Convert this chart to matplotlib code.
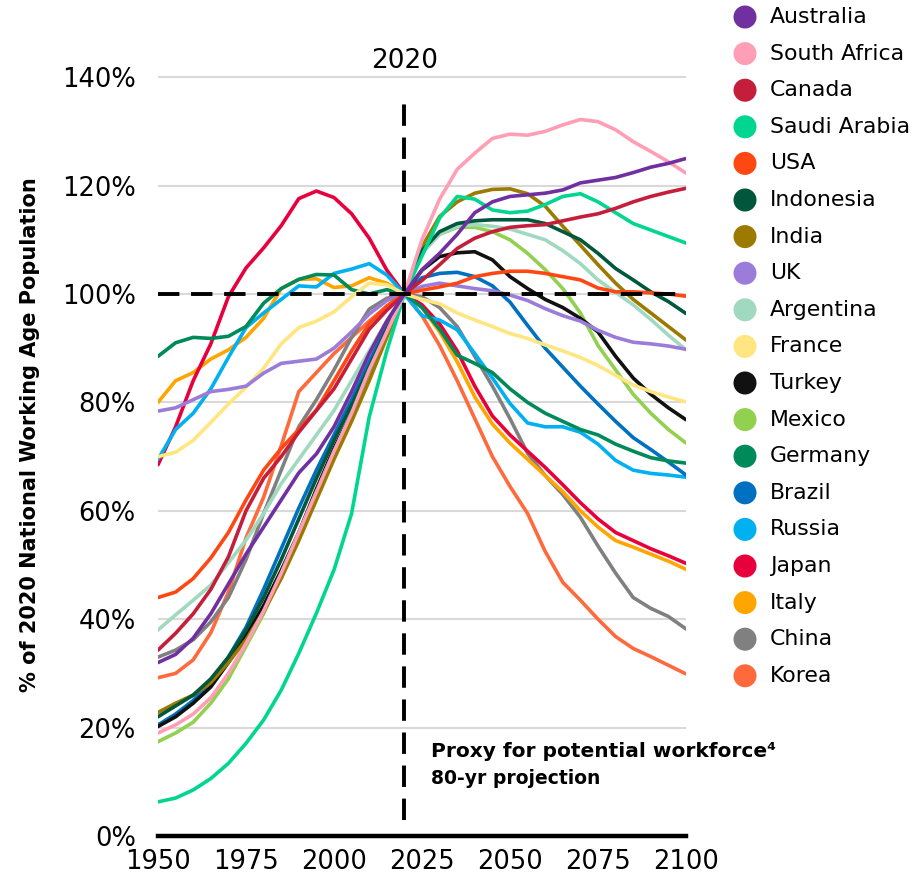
import matplotlib
matplotlib.use("Agg")
import matplotlib.pyplot as plt
import numpy as np

plt.rcParams['font.family'] = ['DejaVu Sans']

# Working-age population, % of the 2020 level, five-year steps 1950-2100
years = list(range(1950, 2101, 5))

countries = ["Australia", "South Africa", "Canada", "Saudi Arabia", "USA",
             "Indonesia", "India", "UK", "Argentina", "France", "Turkey",
             "Mexico", "Germany", "Brazil", "Russia", "Japan", "Italy",
             "China", "Korea"]

colors = ["#7030A0", "#FF9EB5", "#C41E3A", "#00D68F", "#FF4713",
          "#00573C", "#9C7A00", "#9B7DD9", "#A0D9C0", "#FFE680", "#111111",
          "#92D050", "#008A5A", "#0070C0", "#00B0F0", "#E8003D", "#FFA500",
          "#808080", "#FF6A3D"]

australia = [32, 33.5, 36.5, 41, 46.5, 52, 57, 62, 67, 70.5, 75.5, 82, 89, 95, 100,
             104.5, 107.5, 111, 115, 117, 118, 118.3, 118.6, 119.2, 120.5, 121, 121.5,
             122.4, 123.4, 124.1, 125]
south_africa = [19, 20.5, 22.5, 25.5, 30, 35.5, 41.5, 48.5, 56, 63.5, 71, 78, 86, 93, 100,
                110, 117.5, 123, 126, 128.7, 129.5, 129.3, 130, 131.2, 132.2, 131.8, 130.3,
                128.1, 126.3, 124.4, 122.3]
canada = [34.3, 37.4, 41, 45.5, 51.5, 60, 66, 70, 74.5, 78.5, 82.5, 88, 93.5, 97, 100,
          102.5, 105.4, 108.4, 110.3, 111.5, 112.3, 112.6, 112.8, 113.5, 114.2, 114.8,
          115.8, 117, 118, 118.8, 119.5]
saudi_arabia = [6.3, 7, 8.5, 10.6, 13.4, 17.1, 21.4, 26.9, 33.7, 41.1, 49.1, 59.5, 77.3, 89.5, 100,
                107, 114, 118, 117.5, 115.5, 115, 115.3, 116.5, 118, 118.5, 117, 115, 113,
                111.8, 110.6, 109.4]
usa = [44, 45, 47.5, 51.3, 56, 62, 67.5, 71.5, 75, 78.6, 84, 89.5, 94.5, 97.8, 100,
       100.7, 101.3, 102, 103.2, 103.8, 104.2, 104.2, 103.8, 103.2, 102.6, 101.1, 100.4,
       100.4, 100.2, 100, 99.6]
indonesia = [22, 24, 26, 29, 33, 38, 44, 51, 58.5, 66, 73, 79.5, 86.5, 93.5, 100,
             108, 111.5, 113, 113.5, 113.7, 113.7, 113.7, 113, 111.5, 110, 107.5, 104.7,
             102.6, 100.4, 98.6, 96.4]
india = [22.8, 24.5, 26, 28.3, 32, 36.2, 41.4, 47.5, 54.5, 62, 69.5, 76.5, 84, 92, 100,
         108.7, 114.3, 117, 118.6, 119.3, 119.4, 118.5, 116.2, 112.5, 109, 105.4, 102,
         99, 96.5, 94, 91.5]
uk = [78.4, 79, 80.5, 82, 82.4, 83, 85.4, 87.2, 87.6, 88, 90, 93, 96.3, 98.8, 100,
      101.4, 102, 101.5, 101, 100.6, 99.8, 98.8, 97.3, 96, 95, 93.3, 92, 91.1, 90.8,
      90.4, 89.8]
argentina = [38, 40.8, 43.5, 46.3, 50.4, 54.6, 59.5, 65, 69.5, 74, 78.5, 84, 89.5, 95, 100,
             107.5, 111, 112.5, 112.8, 112.5, 112, 111, 110, 108, 105.6, 102.6, 100.3, 98,
             95.3, 92.4, 89.7]
france = [70, 70.8, 73, 76.3, 79.7, 82.8, 86.3, 90.8, 93.8, 95, 96.7, 99.5, 102, 101.7, 100,
          99, 98.2, 96.5, 95.2, 94, 92.7, 91.8, 90.6, 89.5, 88.3, 86.8, 85, 83.2, 82, 81,
          80.1]
turkey = [20.2, 22, 24.5, 27.5, 32, 37, 42.5, 49, 56, 64, 71.5, 78, 86, 93, 100,
          104.4, 106.9, 107.6, 107.8, 106.3, 103.2, 101, 99, 97.5, 95.5, 93, 88.5, 84.5,
          81.5, 79, 76.8]
mexico = [17.4, 19, 21, 24.5, 29, 35, 41, 48, 55.2, 63, 70.5, 77.5, 85, 93, 100,
          108, 111, 112.3, 112.3, 111.5, 110, 107.5, 104.5, 101, 96.5, 90.5, 86, 81.5, 78,
          75, 72.5]
germany = [88.5, 91, 92, 91.8, 92.2, 94, 98.3, 101, 102.7, 103.6, 103.5, 100.8, 100, 100.8, 100,
           97.5, 93.5, 88.7, 87.2, 85.5, 82.5, 80, 78, 76.5, 75, 74, 72.3, 71, 69.8, 69.2,
           68.8]
brazil = [20.5, 22.5, 25, 28.5, 33, 38.5, 45.5, 53, 60.5, 67.5, 74, 80.5, 87.5, 94, 100,
          103, 103.8, 104, 103.2, 101.5, 98.5, 94.2, 90, 86.5, 83, 79.7, 76.5, 73.5, 71.3,
          69, 66.6]
russia = [69.5, 75, 78, 82.5, 88.3, 93.8, 96.5, 99, 101.5, 101.3, 103.8, 104.6, 105.6, 103.5, 100,
          96, 95.2, 93.4, 89, 84.5, 79.8, 76.2, 75.5, 75.5, 74.5, 72.3, 69.3, 67.5, 66.9,
          66.6, 66.2]
japan = [68.5, 75.5, 84, 90.8, 99.5, 104.8, 108.5, 112.6, 117.6, 119, 117.8, 114.8, 110.3, 104.4, 100,
         98, 94.5, 89.5, 83, 77.5, 74, 71, 68, 64.8, 61.5, 58.5, 56, 54.5, 53, 51.7, 50.3]
italy = [80, 84, 85.5, 88, 89.7, 92, 95.5, 101, 102.7, 102.8, 101.2, 101.5, 103, 102, 100,
         97.5, 93, 87.5, 81, 76, 72.5, 69.5, 66.5, 63.5, 60, 57, 54.5, 53.3, 52, 50.7, 49.2]
china = [33, 34.3, 36.2, 39.5, 44, 51, 59.5, 67.5, 75.5, 80.5, 86, 92, 97.2, 99.2, 100,
         99.5, 97.5, 94, 88.5, 83, 77, 70.6, 66.5, 63, 58.8, 53.5, 48.5, 44, 42, 40.5, 38.2]
korea = [29.2, 30, 32.5, 37.5, 45, 55, 62.5, 72, 82, 85.5, 89, 92, 95, 97.7, 100,
         96, 90.5, 84, 77, 70, 64.5, 59.5, 52.5, 46.8, 43.5, 40, 36.8, 34.6, 33.1, 31.5, 29.9]

series = [australia, south_africa, canada, saudi_arabia, usa, indonesia, india, uk,
          argentina, france, turkey, mexico, germany, brazil, russia, japan, italy,
          china, korea]

y_ticks = [0, 20, 40, 60, 80, 100, 120, 140]
x_ticks = [1950, 1975, 2000, 2025, 2050, 2075, 2100]

W, H = 917, 880
fig = plt.figure(figsize=(W / 100, H / 100), dpi=100)
ax = fig.add_axes([158 / W, 44 / H, 528 / W, (836 - 23) / H])
ax.set_xlim(1950, 2100)
ax.set_ylim(0, 150)

for yv in y_ticks[1:]:
    ax.axhline(yv, color="#D9D9D9", lw=1.5, zorder=1)

for name, vals, col in reversed(list(zip(countries, series, colors))):
    ax.plot(years, vals, color=col, lw=2.6, solid_capstyle="round",
            solid_joinstyle="round", zorder=3)

# reference lines at the 2020 level
ax.plot([1950, 2100], [100, 100], color="black", lw=2.8, dashes=(5.5, 3), zorder=5)
ax.plot([2020, 2020], [3, 136.5], color="black", lw=2.8, dashes=(5.5, 3), zorder=5)
ax.text(2020, 143, "2020", ha="center", va="center", fontsize=19)

for s in ["top", "right", "left"]:
    ax.spines[s].set_visible(False)
ax.spines["bottom"].set_linewidth(3.2)
ax.spines["bottom"].set_color("black")

ax.set_yticks(y_ticks)
ax.set_yticklabels([f"{v}%" for v in y_ticks])
ax.set_xticks(x_ticks)
ax.set_xticklabels([str(v) for v in x_ticks])
ax.tick_params(axis="both", length=0, labelsize=18.5)
ax.tick_params(axis="y", pad=16)
ax.tick_params(axis="x", pad=9)

fig.text(30 / W, 1 - 435 / H, "% of 2020 National Working Age Population",
         rotation=90, ha="center", va="center", fontsize=15, fontweight="bold")

ax.text(2027.5, 15.5, "Proxy for potential workforce\u2074", fontsize=14.5,
        fontweight="bold", ha="left", va="center")
ax.text(2027.5, 10.6, "80-yr projection", fontsize=13.5,
        fontweight="bold", ha="left", va="center")

# legend drawn in pixel space
lax = fig.add_axes([0, 0, 1, 1])
lax.set_xlim(0, W)
lax.set_ylim(H, 0)
lax.axis("off")
for i, (name, col) in enumerate(zip(countries, colors)):
    yy = 17 + i * 36.6
    lax.scatter([745], [yy], s=275, color=col, edgecolors="none")
    lax.text(770, yy, name, fontsize=15.8, ha="left", va="center")

fig.savefig("out.png", dpi=100)
